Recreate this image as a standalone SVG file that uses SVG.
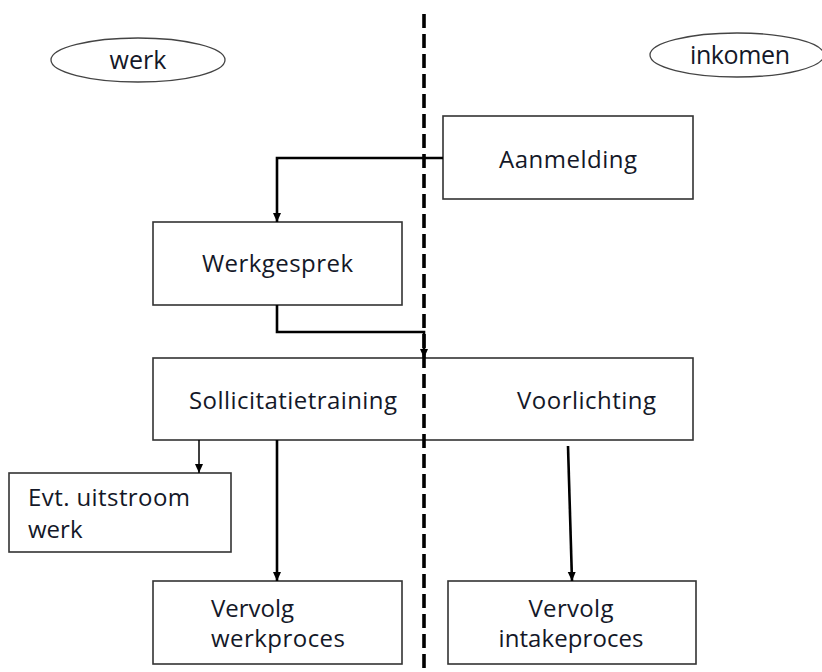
<svg xmlns="http://www.w3.org/2000/svg" width="822" height="672" viewBox="0 0 822 672">
<style>
.box{fill:#fff;stroke:#333;stroke-width:1.6}
.ell{fill:#fff;stroke:#444;stroke-width:1.3}
.t{font-family:"Open Sans","Noto Sans","Liberation Sans",sans-serif;font-size:24px;fill:#141828}
.te{font-family:"Open Sans","Noto Sans","Liberation Sans",sans-serif;font-size:25px;fill:#141828}
.c{fill:none;stroke:#000;stroke-width:2.6}
.ct{fill:none;stroke:#000;stroke-width:1.5}
</style>
<defs>
<marker id="ah" markerUnits="userSpaceOnUse" markerWidth="10" markerHeight="10" viewBox="0 0 10 10" refX="9" refY="5" orient="auto">
<path d="M0,1 L9,5 L0,9 Z" fill="#000"/>
</marker>
</defs>
<rect width="822" height="672" fill="#fff"/>
<g id="werk-label">
<ellipse class="ell" cx="138" cy="60" rx="87" ry="22"/>
<text class="te" x="138" y="69" text-anchor="middle" textLength="57">werk</text>
</g>
<g id="inkomen-label">
<ellipse class="ell" cx="737" cy="55" rx="87" ry="22"/>
<text class="te" x="740" y="64" text-anchor="middle" textLength="100">inkomen</text>
</g>
<g id="aanmelding">
<rect class="box" x="443" y="116" width="250" height="83"/>
<text class="t" x="568" y="168" text-anchor="middle" textLength="138">Aanmelding</text>
</g>
<g id="werkgesprek">
<rect class="box" x="153" y="222" width="249" height="83"/>
<text class="t" x="277.5" y="272" text-anchor="middle" textLength="151">Werkgesprek</text>
</g>
<g id="sollicitatie-voorlichting">
<rect class="box" x="153" y="358" width="540" height="82"/>
<text class="t" x="189" y="409" textLength="208">Sollicitatietraining</text>
<text class="t" x="517" y="409" textLength="139">Voorlichting</text>
</g>
<g id="uitstroom">
<rect class="box" x="9" y="473" width="222" height="79"/>
<text class="t" x="28" y="506" textLength="162">Evt. uitstroom</text>
<text class="t" x="28" y="538">werk</text>
</g>
<g id="vervolg-werk">
<rect class="box" x="153" y="581" width="249" height="83"/>
<text class="t" x="211" y="617">Vervolg</text>
<text class="t" x="211" y="647" textLength="134">werkproces</text>
</g>
<g id="vervolg-intake">
<rect class="box" x="448" y="581" width="248" height="83"/>
<text class="t" x="571" y="617" text-anchor="middle" textLength="85">Vervolg</text>
<text class="t" x="571" y="647" text-anchor="middle" textLength="145">intakeproces</text>
</g>
<g id="connectors">
<path class="c" d="M443,158 H277 V222" marker-end="url(#ah)"/>
<path class="c" d="M277,305 V332 H424 V358" marker-end="url(#ah)"/>
<path class="ct" d="M199,440 V473" marker-end="url(#ah)"/>
<path class="c" d="M277,440 V581" marker-end="url(#ah)"/>
<path class="c" d="M568,446 L572,581" marker-end="url(#ah)"/>
</g>
<line id="divider" x1="424" y1="14" x2="424" y2="672" stroke="#000" stroke-width="3.6" stroke-dasharray="14 6"/>
</svg>
